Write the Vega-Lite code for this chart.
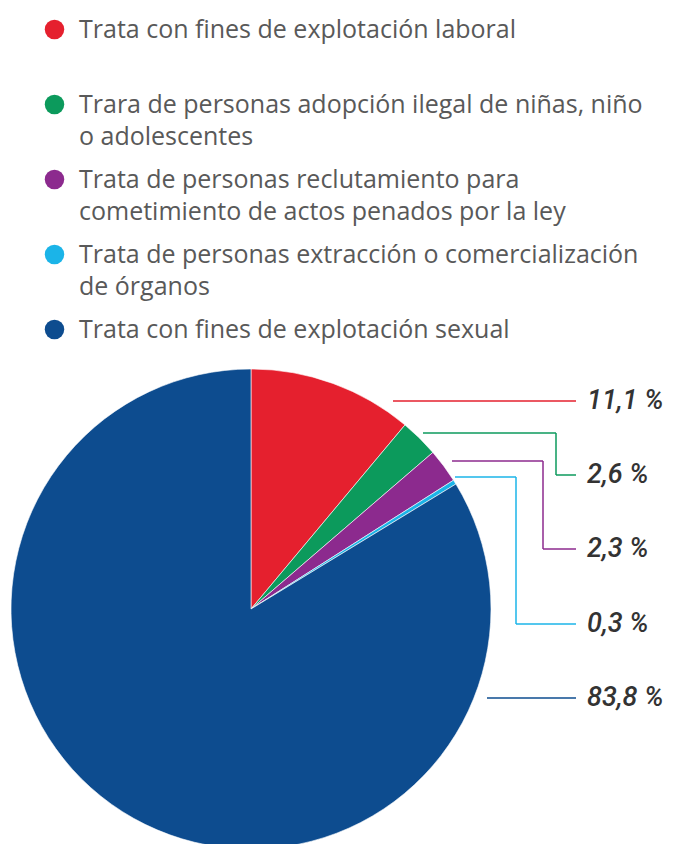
{
  "$schema": "https://vega.github.io/schema/vega-lite/v6.json",
  "width": 480,
  "height": 470,
  "autosize": {"type": "none"},
  "padding": {"left": 11, "top": 374, "right": 182, "bottom": 0},
  "background": "white",
  "config": {
    "view": {"stroke": null},
    "style": {"guide-label": {"lineHeight": 32}}
  },
  "data": {
    "values": [
      {"categoria": "Trata con fines de explotación laboral", "valor": 11.1, "etiqueta": "11,1 %", "orden": 1},
      {"categoria": "Trara de personas adopción ilegal de niñas, niño o adolescentes", "valor": 2.6, "etiqueta": "2,6 %", "orden": 2},
      {"categoria": "Trata de personas reclutamiento para cometimiento de actos penados por la ley", "valor": 2.3, "etiqueta": "2,3 %", "orden": 3},
      {"categoria": "Trata de personas extracción o comercialización de órganos", "valor": 0.3, "etiqueta": "0,3 %", "orden": 4},
      {"categoria": "Trata con fines de explotación sexual", "valor": 83.8, "etiqueta": "83,8 %", "orden": 5}
    ]
  },
  "layer": [
    {
      "mark": {"type": "arc", "outerRadius": 240, "stroke": "white", "strokeWidth": 0.6},
      "encoding": {
        "theta": {"field": "valor", "type": "quantitative", "stack": true},
        "order": {"field": "orden", "type": "quantitative", "sort": "ascending"},
        "color": {
          "field": "categoria",
          "type": "nominal",
          "scale": {
            "domain": [
              "Trata con fines de explotación laboral",
              "Trara de personas adopción ilegal de niñas, niño o adolescentes",
              "Trata de personas reclutamiento para cometimiento de actos penados por la ley",
              "Trata de personas extracción o comercialización de órganos",
              "Trata con fines de explotación sexual"
            ],
            "range": ["#e5202e", "#0c9a5c", "#8c2a8e", "#1bb4e8", "#0d4c8f"]
          },
          "legend": {
            "orient": "none",
            "legendX": 31,
            "legendY": -357,
            "title": null,
            "padding": 0,
            "symbolType": "circle",
            "symbolSize": 380,
            "symbolStrokeWidth": 0,
            "symbolOpacity": 1,
            "labelFont": "Open Sans",
            "labelFontSize": 25,
            "labelColor": "#595959",
            "labelLimit": 1000,
            "labelOffset": 12,
            "labelBaseline": "middle",
            "rowPadding": 17,
            "labelExpr": "datum.label == 'Trata con fines de explotación laboral' ? ['Trata con fines de explotación laboral', ''] : datum.label == 'Trara de personas adopción ilegal de niñas, niño o adolescentes' ? ['Trara de personas adopción ilegal de niñas, niño', 'o adolescentes'] : datum.label == 'Trata de personas reclutamiento para cometimiento de actos penados por la ley' ? ['Trata de personas reclutamiento para', 'cometimiento de actos penados por la ley'] : datum.label == 'Trata de personas extracción o comercialización de órganos' ? ['Trata de personas extracción o comercialización', 'de órganos'] : [datum.label, '']"
          }
        }
      }
    },
    {
      "transform": [{"filter": "datum.orden >= 2 && datum.orden <= 4"}],
      "mark": {"type": "rule", "strokeWidth": 1.5},
      "encoding": {
        "y": {"field": "orden", "type": "quantitative", "axis": null, "scale": {"domain": [2, 3, 4], "range": [59, 87, 103], "nice": false, "zero": false}},
        "x": {"field": "orden", "type": "quantitative", "axis": null, "scale": {"domain": [0.3, 2, 2.3, 2.6, 3, 4], "range": [505, 412, 532, 545, 441, 444], "nice": false, "zero": false}},
        "x2": {"field": "valor"},
        "color": {"field": "categoria", "type": "nominal"}
      }
    },
    {
      "transform": [{"filter": "datum.orden >= 2 && datum.orden <= 4"}],
      "mark": {"type": "rule", "strokeWidth": 1.5},
      "encoding": {
        "x": {"field": "orden", "type": "quantitative", "axis": null, "scale": {"domain": [2, 3, 4], "range": [545, 532, 505], "nice": false, "zero": false}},
        "y": {"field": "orden", "type": "quantitative", "axis": null, "scale": {"domain": [0.3, 2, 2.3, 2.6, 3, 4], "range": [250, 59, 175, 101, 87, 103], "nice": false, "zero": false}},
        "y2": {"field": "valor"},
        "color": {"field": "categoria", "type": "nominal"}
      }
    },
    {
      "mark": {"type": "rule", "strokeWidth": 1.5},
      "encoding": {
        "y": {"field": "orden", "type": "quantitative", "axis": null, "scale": {"domain": [1, 2, 3, 4, 5], "range": [27, 101, 175, 250, 324], "nice": false, "zero": false}},
        "x": {"field": "orden", "type": "quantitative", "axis": null, "scale": {"domain": [0.3, 1, 2, 2.3, 2.6, 3, 4, 5, 11.1, 83.8], "range": [565, 382, 545, 565, 565, 532, 505, 476, 565, 565], "nice": false, "zero": false}},
        "x2": {"field": "valor"},
        "color": {"field": "categoria", "type": "nominal"}
      }
    },
    {
      "mark": {"type": "text", "align": "left", "baseline": "middle", "font": "Roboto", "fontStyle": "italic", "fontWeight": 500, "fontSize": 27, "fill": "#333333"},
      "encoding": {
        "x": {"field": "orden", "type": "quantitative", "axis": null, "scale": {"domain": [1, 5], "range": [576, 576], "nice": false, "zero": false}},
        "y": {"field": "orden", "type": "quantitative", "axis": null, "scale": {"domain": [1, 2, 3, 4, 5], "range": [27, 101, 175, 250, 324], "nice": false, "zero": false}},
        "text": {"field": "etiqueta"}
      }
    }
  ],
  "resolve": {"scale": {"x": "independent", "y": "independent"}}
}
